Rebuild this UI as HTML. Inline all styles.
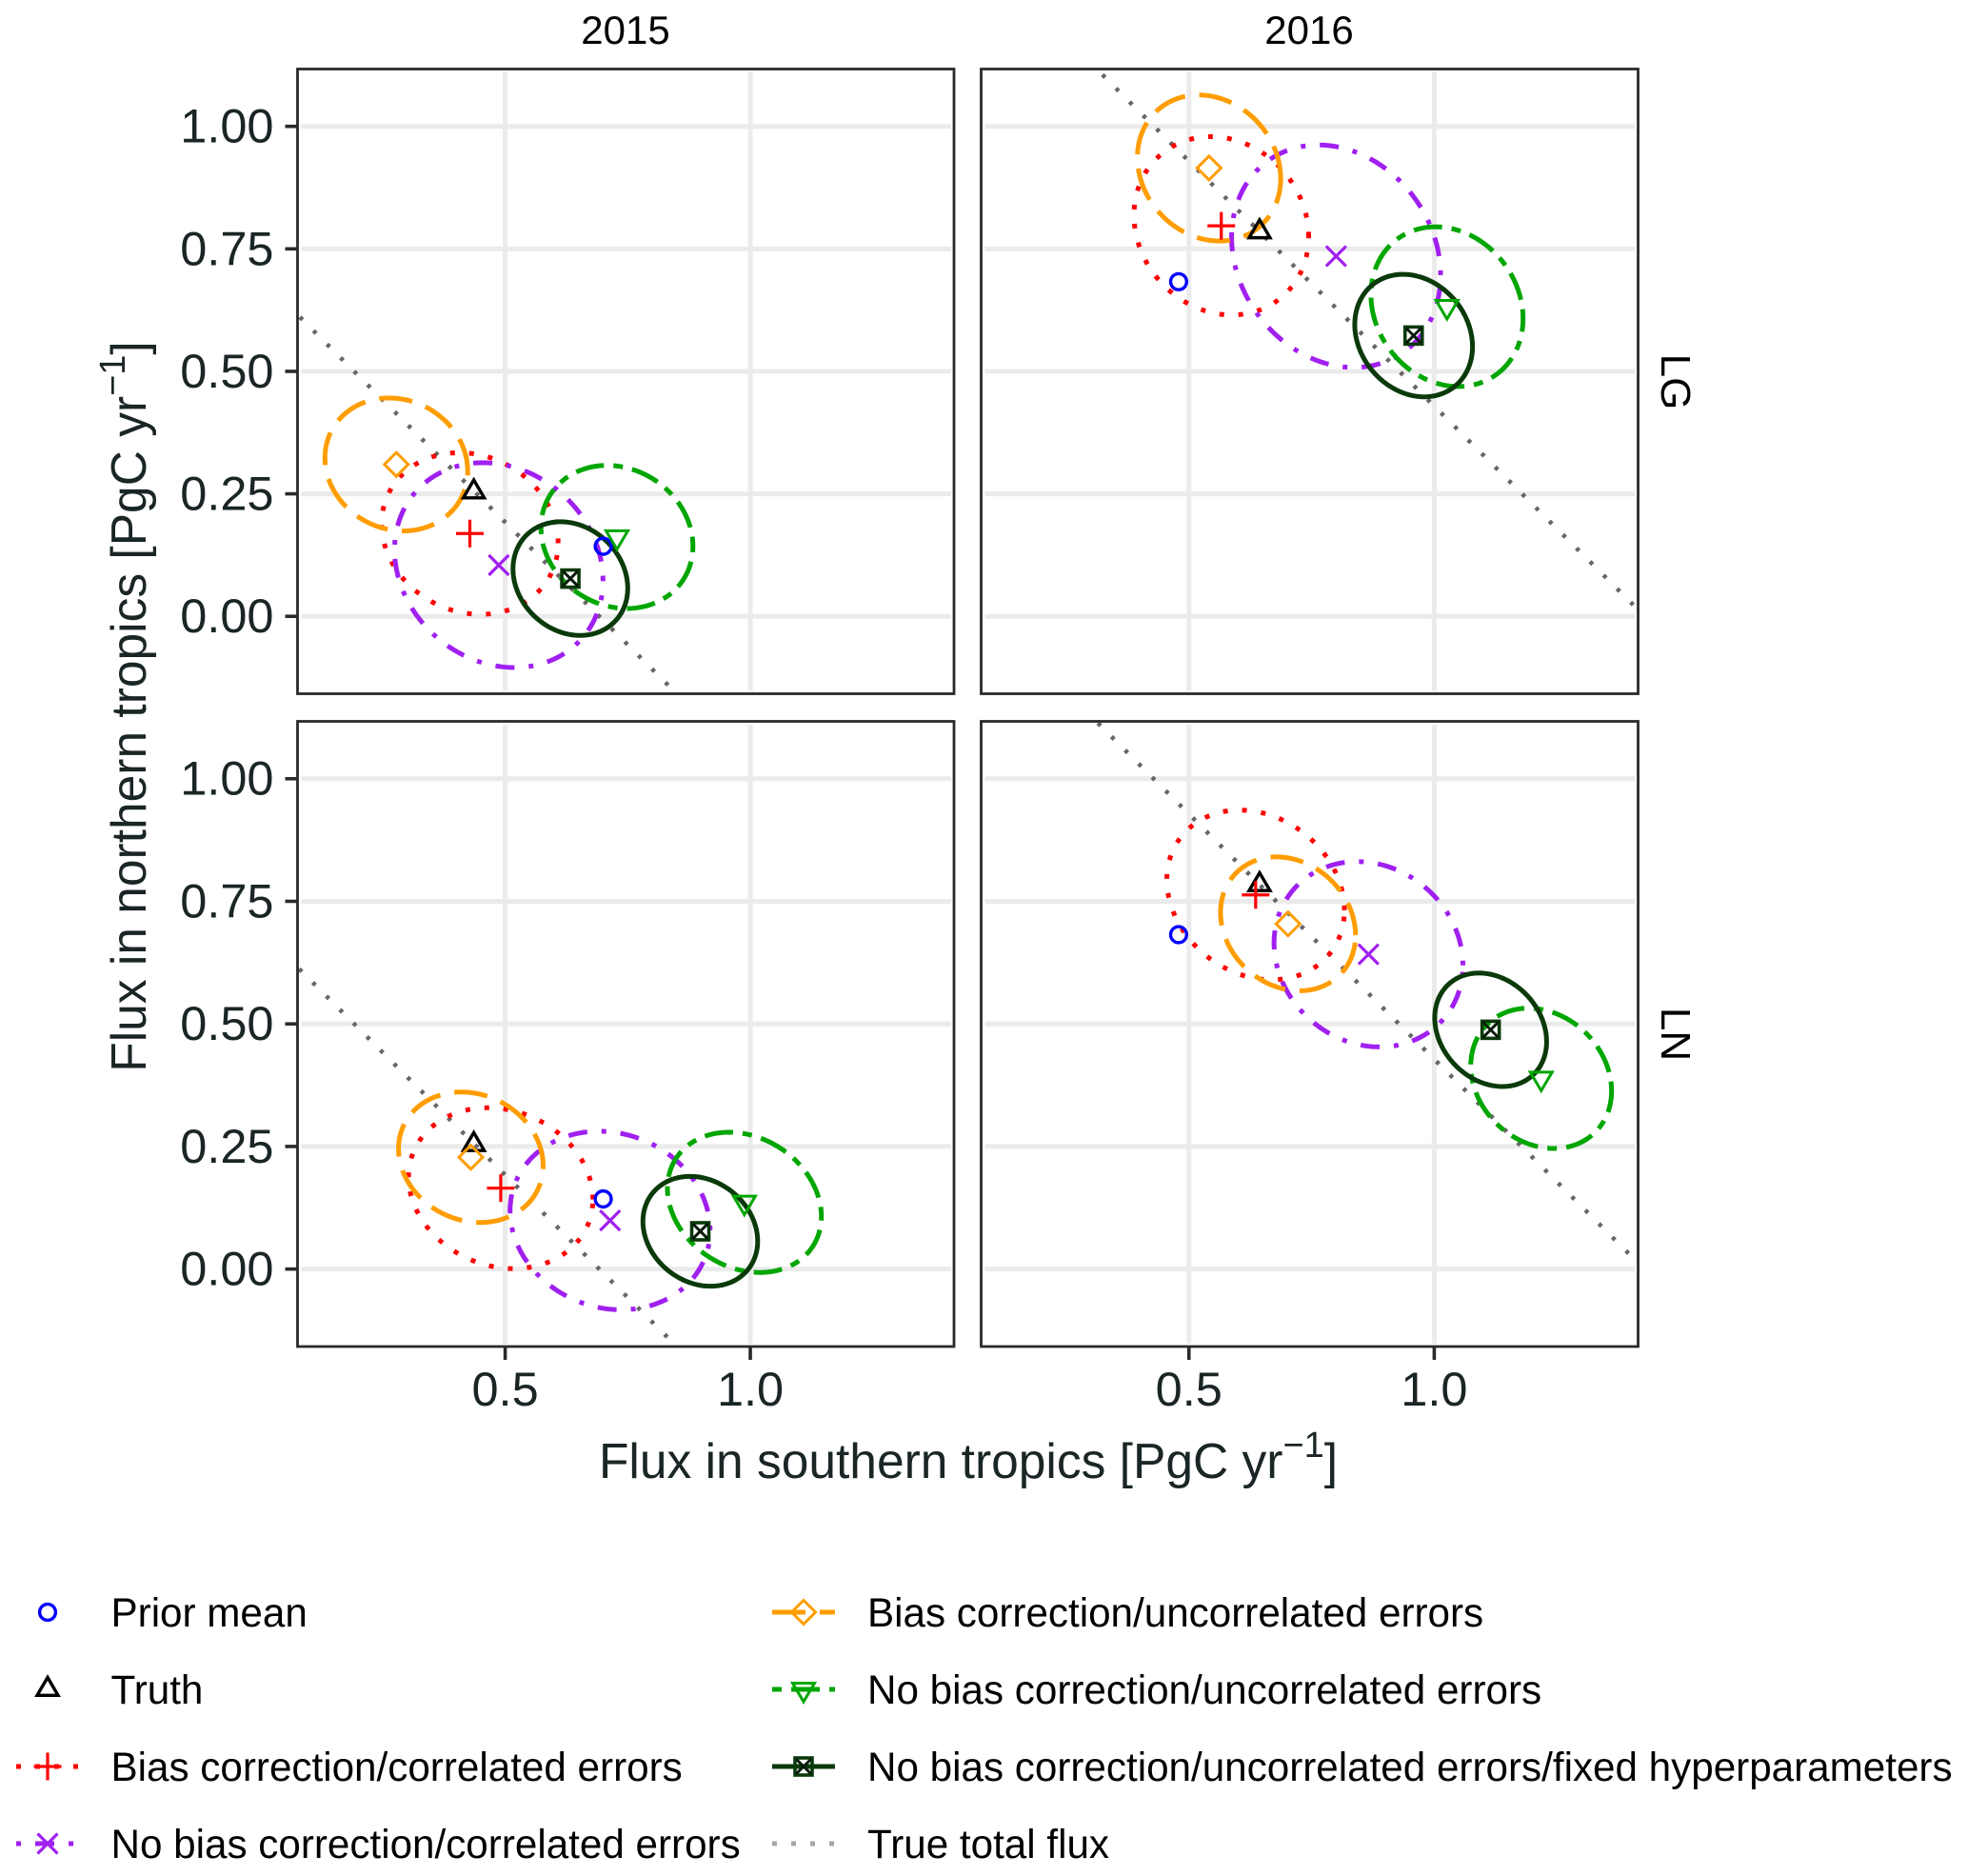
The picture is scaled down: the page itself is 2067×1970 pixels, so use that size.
<!DOCTYPE html>
<html lang="en">
<head>
<meta charset="utf-8">
<title>Flux in northern versus southern tropics</title>
<style>
html,body{margin:0;padding:0;background:#fff;}
svg{display:block;}
text{font-family:"Liberation Sans",sans-serif;}
</style>
</head>
<body>
<svg id="chart" xmlns="http://www.w3.org/2000/svg" width="2067" height="1970" viewBox="0 0 2067 1970">
  <rect x="0" y="0" width="2067" height="1970" fill="#ffffff"/>
  <g id="panels"></g>

  <text x="657" y="46" font-size="42" text-anchor="middle" fill="#000">2015</text>
  <text x="1375" y="46" font-size="42" text-anchor="middle" fill="#000">2016</text>
  <text transform="translate(1745 401) rotate(90)" font-size="44" text-anchor="middle" fill="#000">LG</text>
  <text transform="translate(1745 1086) rotate(90)" font-size="44" text-anchor="middle" fill="#000">LN</text>

  <text x="1017" y="1552" font-size="51.5" text-anchor="middle" fill="#1a2526">Flux in southern tropics [PgC yr<tspan font-size="38" dy="-22">−1</tspan><tspan dy="22">]</tspan></text>
  <text transform="translate(153 742) rotate(-90)" font-size="51.5" text-anchor="middle" fill="#1a2526">Flux in northern tropics [PgC yr<tspan font-size="38" dy="-22">−1</tspan><tspan dy="22">]</tspan></text>

  <g id="legend">
    <g id="legend-keys"></g>
    <g font-size="42.2" fill="#000">
      <text x="116.5" y="1708">Prior mean</text>
      <text x="116.5" y="1789">Truth</text>
      <text x="116.5" y="1870">Bias correction/correlated errors</text>
      <text x="116.5" y="1951">No bias correction/correlated errors</text>
      <text x="911" y="1708">Bias correction/uncorrelated errors</text>
      <text x="911" y="1789">No bias correction/uncorrelated errors</text>
      <text x="911" y="1870">No bias correction/uncorrelated errors/fixed hyperparameters</text>
      <text x="911" y="1951">True total flux</text>
    </g>
  </g>
</svg>
<script>
// Panel order: 2015-LG, 2016-LG, 2015-LN, 2016-LN
const panelNames = ['2015-lg', '2016-lg', '2015-ln', '2016-ln'];
const xTicks = [0.5, 1.0];
const xTickLabels = ['0.5', '1.0'];
const yTicks = [0, 0.25, 0.5, 0.75, 1.0];
const yTickLabels = ['0.00', '0.25', '0.50', '0.75', '1.00'];

const priorX = [0.70, 0.479, 0.70, 0.479];
const priorY = [0.143, 0.683, 0.143, 0.682];
const truthX = [0.436, 0.644, 0.436, 0.644];
const truthY = [0.254, 0.785, 0.254, 0.784];
const totalFlux = [0.692, 1.429, 0.692, 1.428];

const bcCorrX = [0.428, 0.566, 0.491, 0.636];
const bcCorrY = [0.169, 0.797, 0.165, 0.763];
const bcCorrHalfX = [0.18, 0.178, 0.188, 0.181];
const bcCorrHalfY = [0.165, 0.182, 0.164, 0.173];
const bcCorrRho = [-0.12, -0.12, -0.14, -0.18];

const nbCorrX = [0.487, 0.80, 0.714, 0.866];
const nbCorrY = [0.1045, 0.735, 0.099, 0.642];
const nbCorrHalfX = [0.2126, 0.213, 0.204, 0.1925];
const nbCorrHalfY = [0.209, 0.227, 0.182, 0.189];
const nbCorrRho = [-0.15, -0.17, -0.11, -0.12];

const bcUncorrX = [0.278, 0.541, 0.43, 0.702];
const bcUncorrY = [0.31, 0.915, 0.228, 0.704];
const bcUncorrHalfX = [0.1456, 0.146, 0.1475, 0.1376];
const bcUncorrHalfY = [0.1356, 0.149, 0.133, 0.1365];
const bcUncorrRho = [-0.1, -0.145, -0.13, -0.17];

const nbUncorrX = [0.728, 1.026, 0.988, 1.218];
const nbUncorrY = [0.162, 0.632, 0.136, 0.389];
const nbUncorrHalfX = [0.155, 0.155, 0.157, 0.1435];
const nbUncorrHalfY = [0.146, 0.163, 0.143, 0.143];
const nbUncorrRho = [-0.13, -0.15, -0.2, -0.18];

const fixedX = [0.633, 0.958, 0.898, 1.115];
const fixedY = [0.077, 0.573, 0.077, 0.488];
const fixedHalfX = [0.117, 0.12, 0.117, 0.114];
const fixedHalfY = [0.116, 0.125, 0.112, 0.1157];
const fixedRho = [-0.17, -0.18, -0.18, -0.21];

const xDomain = [0.0765, 1.4155];
const yDomain = [-0.158, 1.117];

const NS = 'http://www.w3.org/2000/svg';
const COLORS = {
  prior: '#0000ff', truth: '#000000', bcCorr: '#ff0000', nbCorr: '#a020f0',
  bcUncorr: '#ff9d00', nbUncorr: '#00a600', fixed: '#0a3a0a', total: '#666666'
};
const DASHES = {
  bcCorr: '5 15', nbCorr: '5 15 20 15', bcUncorr: '35 15', nbUncorr: '10 10 30 10', fixed: 'none'
};
const LINE_WIDTH = 5;
const totalDashPhase = [-3.5, 0.9, -2.5, -12.6];

const panelBoxes = [
  {left: 312.5, right: 1002, top: 72.5, bottom: 728.5},
  {left: 1030.5, right: 1720.5, top: 72.5, bottom: 728.5},
  {left: 312.5, right: 1002, top: 757.5, bottom: 1414},
  {left: 1030.5, right: 1720.5, top: 757.5, bottom: 1414}
];

function xScale(p, v) {
  const b = panelBoxes[p];
  return b.left + (v - xDomain[0]) / (xDomain[1] - xDomain[0]) * (b.right - b.left);
}
function yScale(p, v) {
  const b = panelBoxes[p];
  return b.bottom - (v - yDomain[0]) / (yDomain[1] - yDomain[0]) * (b.bottom - b.top);
}
function mk(tag, attrs, parent) {
  const el = document.createElementNS(NS, tag);
  for (const k in attrs) el.setAttribute(k, attrs[k]);
  if (parent) parent.appendChild(el);
  return el;
}

function drawMarker(parent, kind, px, py) {
  const g = mk('g', {transform: 'translate(' + px + ' ' + py + ')', fill: 'none'}, parent);
  if (kind === 'prior') {
    mk('circle', {cx: 0, cy: 0, r: 8.4, stroke: COLORS.prior, 'stroke-width': 3.4}, g);
  } else if (kind === 'truth') {
    mk('path', {d: 'M0 -12.5 L11 6.3 L-11 6.3 Z', stroke: COLORS.truth, 'stroke-width': 3.4}, g);
  } else if (kind === 'bcCorr') {
    mk('path', {d: 'M-14.5 0 H14.5 M0 -14.5 V14.5', stroke: COLORS.bcCorr, 'stroke-width': 3.2}, g);
  } else if (kind === 'nbCorr') {
    mk('path', {d: 'M-10.5 -10.5 L10.5 10.5 M-10.5 10.5 L10.5 -10.5', stroke: COLORS.nbCorr, 'stroke-width': 3.2}, g);
  } else if (kind === 'bcUncorr') {
    mk('path', {d: 'M0 -12.5 L12.5 0 L0 12.5 L-12.5 0 Z', stroke: COLORS.bcUncorr, 'stroke-width': 3}, g);
  } else if (kind === 'nbUncorr') {
    mk('path', {d: 'M0 13 L11.5 -6.5 L-11.5 -6.5 Z', stroke: COLORS.nbUncorr, 'stroke-width': 3}, g);
  } else if (kind === 'fixed') {
    mk('rect', {x: -9, y: -9, width: 18, height: 18, stroke: COLORS.fixed, 'stroke-width': 3.6}, g);
    mk('path', {d: 'M-8 -8 L8 8 M-8 8 L8 -8', stroke: '#0a1a0a', 'stroke-width': 3}, g);
  }
  return g;
}

function ellipsePath(p, cx, cy, hx, hy, rho) {
  const phi = Math.acos(rho);
  const parts = [];
  const n = 160;
  for (let i = 0; i < n; i++) {
    const t = i / n * 2 * Math.PI;
    const dx = xScale(p, cx + hx * Math.cos(t));
    const dy = yScale(p, cy + hy * Math.cos(t - phi));
    parts.push((i ? 'L' : 'M') + dx.toFixed(2) + ' ' + dy.toFixed(2));
  }
  return parts.join(' ') + ' Z';
}

const svgPanels = document.getElementById('panels');
const defs = mk('defs', {}, svgPanels);

const ellipseSeries = [
  {key: 'bcCorr', name: 'bias-correlated', x: bcCorrX, y: bcCorrY, hx: bcCorrHalfX, hy: bcCorrHalfY, rho: bcCorrRho},
  {key: 'nbCorr', name: 'no-bias-correlated', x: nbCorrX, y: nbCorrY, hx: nbCorrHalfX, hy: nbCorrHalfY, rho: nbCorrRho},
  {key: 'bcUncorr', name: 'bias-uncorrelated', x: bcUncorrX, y: bcUncorrY, hx: bcUncorrHalfX, hy: bcUncorrHalfY, rho: bcUncorrRho},
  {key: 'nbUncorr', name: 'no-bias-uncorrelated', x: nbUncorrX, y: nbUncorrY, hx: nbUncorrHalfX, hy: nbUncorrHalfY, rho: nbUncorrRho},
  {key: 'fixed', name: 'fixed-hyperparameters', x: fixedX, y: fixedY, hx: fixedHalfX, hy: fixedHalfY, rho: fixedRho}
];

panelNames.forEach(function (pname, p) {
  const b = panelBoxes[p];
  const panel = mk('g', {}, svgPanels);
  
  

  const clip = mk('clipPath', {id: 'clip' + p}, defs);
  mk('rect', {x: b.left, y: b.top, width: b.right - b.left, height: b.bottom - b.top}, clip);

  // grid
  yTicks.forEach(function (v) {
    const yy = yScale(p, v);
    const line = mk('line', {x1: b.left + 4, x2: b.right - 3, y1: yy, y2: yy, stroke: '#ebebeb', 'stroke-width': 5}, panel);
    
    
  });
  xTicks.forEach(function (v) {
    const xx = xScale(p, v);
    const line = mk('line', {x1: xx, x2: xx, y1: b.top + 3.5, y2: b.bottom - 3, stroke: '#ebebeb', 'stroke-width': 5}, panel);
    
    
  });

  const marks = mk('g', {'clip-path': 'url(#clip' + p + ')'}, panel);

  // true total flux line
  const tx0 = xDomain[0];
  const tx1 = xDomain[1];
  const totalLine = mk('line', {
    x1: xScale(p, tx0), y1: yScale(p, totalFlux[p] - tx0),
    x2: xScale(p, tx1), y2: yScale(p, totalFlux[p] - tx1),
    stroke: COLORS.total, 'stroke-width': 4.5, 'stroke-dasharray': '4 16.1', 'stroke-dashoffset': totalDashPhase[p]
  }, marks);
  
  

  // ellipses
  ellipseSeries.forEach(function (s) {
    const attrs = {
      d: ellipsePath(p, s.x[p], s.y[p], s.hx[p], s.hy[p], s.rho[p]),
      fill: 'none', stroke: COLORS[s.key], 'stroke-width': LINE_WIDTH
    };
    if (DASHES[s.key] !== 'none') attrs['stroke-dasharray'] = DASHES[s.key];
    const el = mk('path', attrs, marks);
    
    
  });

  // points
  const prior = drawMarker(marks, 'prior', xScale(p, priorX[p]), yScale(p, priorY[p]));
  
  
  const truth = drawMarker(marks, 'truth', xScale(p, truthX[p]), yScale(p, truthY[p]));
  
  
  ellipseSeries.forEach(function (s) {
    const pt = drawMarker(marks, s.key, xScale(p, s.x[p]), yScale(p, s.y[p]));
    
    
  });

  // border
  const border = mk('rect', {x: b.left, y: b.top, width: b.right - b.left, height: b.bottom - b.top, fill: 'none', stroke: '#2a2a2a', 'stroke-width': 2.8}, panel);
  
  

  // y ticks on left panels
  if (p % 2 === 0) {
    yTicks.forEach(function (v, i) {
      const yy = yScale(p, v);
      const tick = mk('line', {x1: b.left - 13, x2: b.left, y1: yy, y2: yy, stroke: '#2a2a2a', 'stroke-width': 3.6}, panel);
      
      
      const label = mk('text', {x: 287.5, y: yy + 17, 'font-size': 50.5, 'text-anchor': 'end', fill: '#1a2526'}, panel);
      
      
      label.textContent = yTickLabels[i];
    });
  }
  // x ticks on bottom panels
  if (p >= 2) {
    xTicks.forEach(function (v, i) {
      const xx = xScale(p, v);
      const tick = mk('line', {x1: xx, x2: xx, y1: b.bottom, y2: b.bottom + 14, stroke: '#2a2a2a', 'stroke-width': 3.6}, panel);
      
      
      const label = mk('text', {x: xx, y: 1476, 'font-size': 50.5, 'text-anchor': 'middle', fill: '#1a2526'}, panel);
      
      
      label.textContent = xTickLabels[i];
    });
  }
});

// legend keys
const legendKeys = document.getElementById('legend-keys');
const keyEntries = [
  {key: 'prior', name: 'prior-mean', x: 17, y: 1693, line: false},
  {key: 'truth', name: 'truth', x: 17, y: 1774, line: false},
  {key: 'bcCorr', name: 'bias-correlated', x: 17, y: 1855, line: true},
  {key: 'nbCorr', name: 'no-bias-correlated', x: 17, y: 1936, line: true},
  {key: 'bcUncorr', name: 'bias-uncorrelated', x: 811, y: 1693, line: true},
  {key: 'nbUncorr', name: 'no-bias-uncorrelated', x: 811, y: 1774, line: true},
  {key: 'fixed', name: 'fixed-hyperparameters', x: 811, y: 1855, line: true}
];
keyEntries.forEach(function (k) {
  const g = mk('g', {}, legendKeys);
  
  
  if (k.line) {
    const attrs = {x1: k.x, x2: k.x + 66, y1: k.y, y2: k.y, stroke: COLORS[k.key], 'stroke-width': LINE_WIDTH};
    if (DASHES[k.key] !== 'none') attrs['stroke-dasharray'] = DASHES[k.key];
    mk('line', attrs, g);
  }
  drawMarker(g, k.key, k.x + 33, k.y);
});
const totalKey = mk('line', {x1: 811, x2: 877, y1: 1936, y2: 1936, stroke: '#a6a6a6', 'stroke-width': 5, 'stroke-dasharray': '5 15'}, legendKeys);


</script>
</body>
</html>
